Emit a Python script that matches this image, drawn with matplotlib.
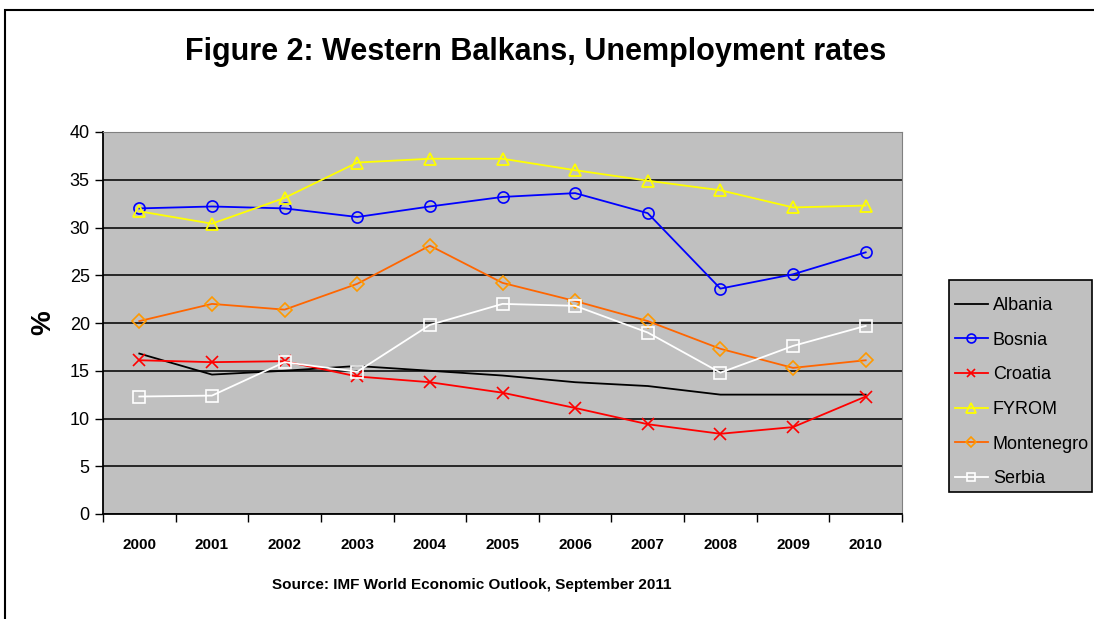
import matplotlib
matplotlib.use("Agg")
import matplotlib.pyplot as plt
from matplotlib.patches import Rectangle

years = ["2000", "2001", "2002", "2003", "2004", "2005",
         "2006", "2007", "2008", "2009", "2010"]

albania = [16.8, 14.6, 15.0, 15.5, 15.0, 14.5, 13.8, 13.4, 12.5, 12.5, 12.5]
bosnia = [32.0, 32.2, 32.0, 31.1, 32.2, 33.2, 33.6, 31.5, 23.6, 25.1, 27.4]
croatia = [16.1, 15.9, 16.0, 14.4, 13.8, 12.7, 11.1, 9.4, 8.4, 9.1, 12.3]
fyrom = [31.7, 30.4, 33.1, 36.8, 37.2, 37.2, 36.0, 34.9, 33.9, 32.1, 32.3]
montenegro = [20.2, 22.0, 21.4, 24.1, 28.1, 24.2, 22.3, 20.2, 17.3, 15.3, 16.1]
serbia = [12.3, 12.4, 15.9, 14.9, 19.8, 22.0, 21.8, 19.0, 14.8, 17.6, 19.7]

plt.rcParams["font.family"] = ["Liberation Sans", "DejaVu Sans"]

W, H = 1094, 619
fig = plt.figure(figsize=(W / 100, H / 100), dpi=100)

# outer chart frame (only top and left edges visible in the crop)
fig.patches.append(Rectangle((5 / W, -0.05), 1.2, 1 - 10 / H + 0.05,
                             transform=fig.transFigure, fill=False,
                             edgecolor="black", linewidth=1.5))

ax = fig.add_axes([103 / W, 1 - 514 / H, (902 - 103) / W, (514 - 132) / H])
ax.set_facecolor("#C0C0C0")

x = list(range(len(years)))
ax.plot(x, albania, color="black", linewidth=1.3, label="Albania")
ax.plot(x, bosnia, color="#0000FF", linewidth=1.3, marker="o", markersize=8,
        markerfacecolor="none", markeredgewidth=1.2, label="Bosnia")
ax.plot(x, croatia, color="#FF0000", linewidth=1.3, marker="x", markersize=8,
        markeredgewidth=1.2, label="Croatia")
ax.plot(x, fyrom, color="#FFFF00", linewidth=1.3, marker="^", markersize=9,
        markerfacecolor="none", markeredgewidth=1.3, label="FYROM")
ax.plot(x, montenegro, color="#FF6600", linewidth=1.3, marker="D", markersize=7,
        markerfacecolor="none", markeredgecolor="#FF9900", markeredgewidth=1.2,
        label="Montenegro")
ax.plot(x, serbia, color="white", linewidth=1.3, marker="s", markersize=8,
        markerfacecolor="none", markeredgewidth=1.2, label="Serbia")

ax.set_xlim(-0.5, len(years) - 0.5)
ax.set_ylim(0, 40)
ax.set_yticks(range(0, 41, 5))
ax.yaxis.grid(True, color="#262626", linewidth=1.4)
ax.set_axisbelow(True)
ax.tick_params(axis="y", labelsize=13, length=6, direction="out", width=1)

# category boundaries carry the ticks, labels sit in between
ax.set_xticks([i - 0.5 for i in range(len(years) + 1)])
ax.set_xticklabels([])
ax.set_xticks(x, minor=True)
ax.set_xticklabels(years, minor=True, fontsize=11, fontweight="bold")
ax.tick_params(axis="x", which="major", length=6, width=1, direction="out")
ax.tick_params(axis="x", which="minor", length=0, pad=17)

for side in ["top", "right"]:
    ax.spines[side].set_color("#808080")
for side in ["left", "bottom"]:
    ax.spines[side].set_color("black")
    ax.spines[side].set_linewidth(1.3)

ax.set_ylabel("%", fontsize=20, fontweight="bold", labelpad=10)

fig.text(536 / W, 1 - 52 / H, "Figure 2: Western Balkans, Unemployment rates",
         ha="center", va="center", fontsize=22, fontweight="bold")
fig.text(472 / W, 1 - 585 / H, "Source: IMF World Economic Outlook, September 2011",
         ha="center", va="center", fontsize=11, fontweight="bold")

# legend box drawn by hand so the entries can sit where the original has them
fig.patches.append(Rectangle((949 / W, 1 - 492 / H), (1092 - 949) / W, (492 - 280) / H,
                             transform=fig.transFigure, facecolor="#C0C0C0",
                             edgecolor="black", linewidth=1.2, zorder=5))
leg = fig.legend(loc="upper left", bbox_to_anchor=(955 / W, 1 - 297 / H),
                 bbox_transform=fig.transFigure, fontsize=13, frameon=False,
                 borderpad=0, labelspacing=0.98, handlelength=1.8,
                 handletextpad=0.3, borderaxespad=0, markerscale=0.8)
leg.set_zorder(6)

fig.savefig("out.png", dpi=100)
